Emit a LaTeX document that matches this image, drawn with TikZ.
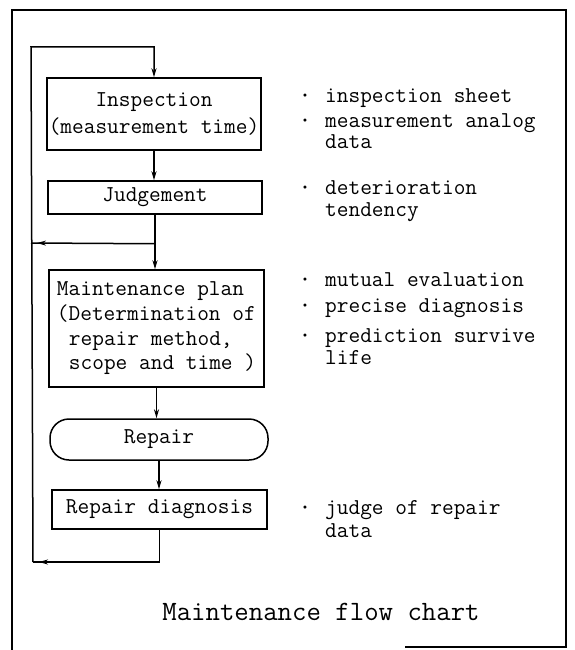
\documentclass[tikz,border=0pt]{standalone}
\usepackage{fontspec}
\usetikzlibrary{arrows.meta,decorations.markings}
\newcommand{\mfont}{\ttfamily\fontsize{22.7}{24.7}\selectfont\addfontfeature{FakeBold=1.5}}
\newcommand{\capfont}{\ttfamily\fontsize{28}{30}\selectfont\addfontfeature{FakeBold=1.5}}
\begin{document}
\begin{tikzpicture}[x=1pt,y=-1pt,
  box/.style={draw,line width=1.5pt,inner sep=0pt,font=\mfont},
  conn/.style={line width=1.5pt},
  arr/.style={conn,-{Stealth[length=9pt,width=5pt]}},
  midarr/.style={conn,postaction={decorate},decoration={markings,
     mark=at position -6pt with {\arrow{Stealth[length=9pt,width=5pt]}}}},
  frame/.style={line width=2pt},
  note/.style={anchor=base west,inner sep=0pt,font=\mfont},
  bul/.style={anchor=base,inner sep=0pt,font=\mfont\bfseries}]
\useasboundingbox (0,0) rectangle (574,650);

% outer frame
\draw[frame] (12,650) -- (12,10) -- (566,10) -- (566,647) -- (405,647);

% boxes
\node[box,minimum width=214pt,minimum height=72pt,align=center] (insp) at (154,114) {Inspection\\[3pt](measurement time)};
\node[box,minimum width=214pt,minimum height=33pt] (judg) at (155,197.5) {Judgement};
\node[box,minimum width=215pt,minimum height=117pt,align=left] (maint) at (156.5,328.5)
  {Maintenance plan\\(Determination of\\\hspace*{12pt}repair method,\\\hspace*{12pt}scope and time )};
\node[box,rounded corners=19pt,minimum width=218pt,minimum height=41pt] (rep) at (159,439.5) {Repair};
\node[box,minimum width=215pt,minimum height=39pt] (rdiag) at (159.5,509.5) {Repair diagnosis};

% connector corners
\path (judg.south) ++(0,29) coordinate (jn);
\coordinate (lj) at (31,243);
\coordinate (lb) at (33,562);
\coordinate (tl) at (31,47);

% connectors
\draw[arr] (insp.south) -- (insp.south |- judg.north);
\draw[conn] (judg.south) -- (jn);
\draw[midarr] (jn) -- (lj);
\draw[arr] (jn) -- (jn |- maint.north);
\draw[arr] (maint.south) -- (maint.south |- rep.north);
\draw[arr] (rep.south) -- (rep.south |- rdiag.north);
\draw[midarr] (rdiag.south) |- (lb);
\draw[arr] (lb) -- (tl) -| (insp.north);

% notes
\node[bul] (b1) at (305,102.5) {·};
\node[note] (n1) at (325,102.5) {inspection sheet};
\node[bul] (b2) at (305,127.5) {·};
\node[note] (n2) at (325,127.5) {measurement analog};
\node[note] (n3) at (325,148.5) {data};
\node[bul] (b3) at (305,194.5) {·};
\node[note] (n4) at (325,194.5) {deterioration};
\node[note] (n5) at (325,216.5) {tendency};
\node[bul] (b4) at (305,286.5) {·};
\node[note] (n6) at (325,286.5) {mutual evaluation};
\node[bul] (b5) at (305,312.5) {·};
\node[note] (n7) at (325,312.5) {precise diagnosis};
\node[bul] (b6) at (305,342.5) {·};
\node[note] (n8) at (325,342.5) {prediction survive};
\node[note] (n9) at (325,364.5) {life};
\node[bul] (b7) at (305,514.5) {·};
\node[note] (n10) at (325,514.5) {judge of repair};
\node[note] (n11) at (325,537.5) {data};

% caption
\node[anchor=base,inner sep=0pt,font=\capfont] (cap) at (321,620) {Maintenance flow chart};
\end{tikzpicture}
\end{document}
